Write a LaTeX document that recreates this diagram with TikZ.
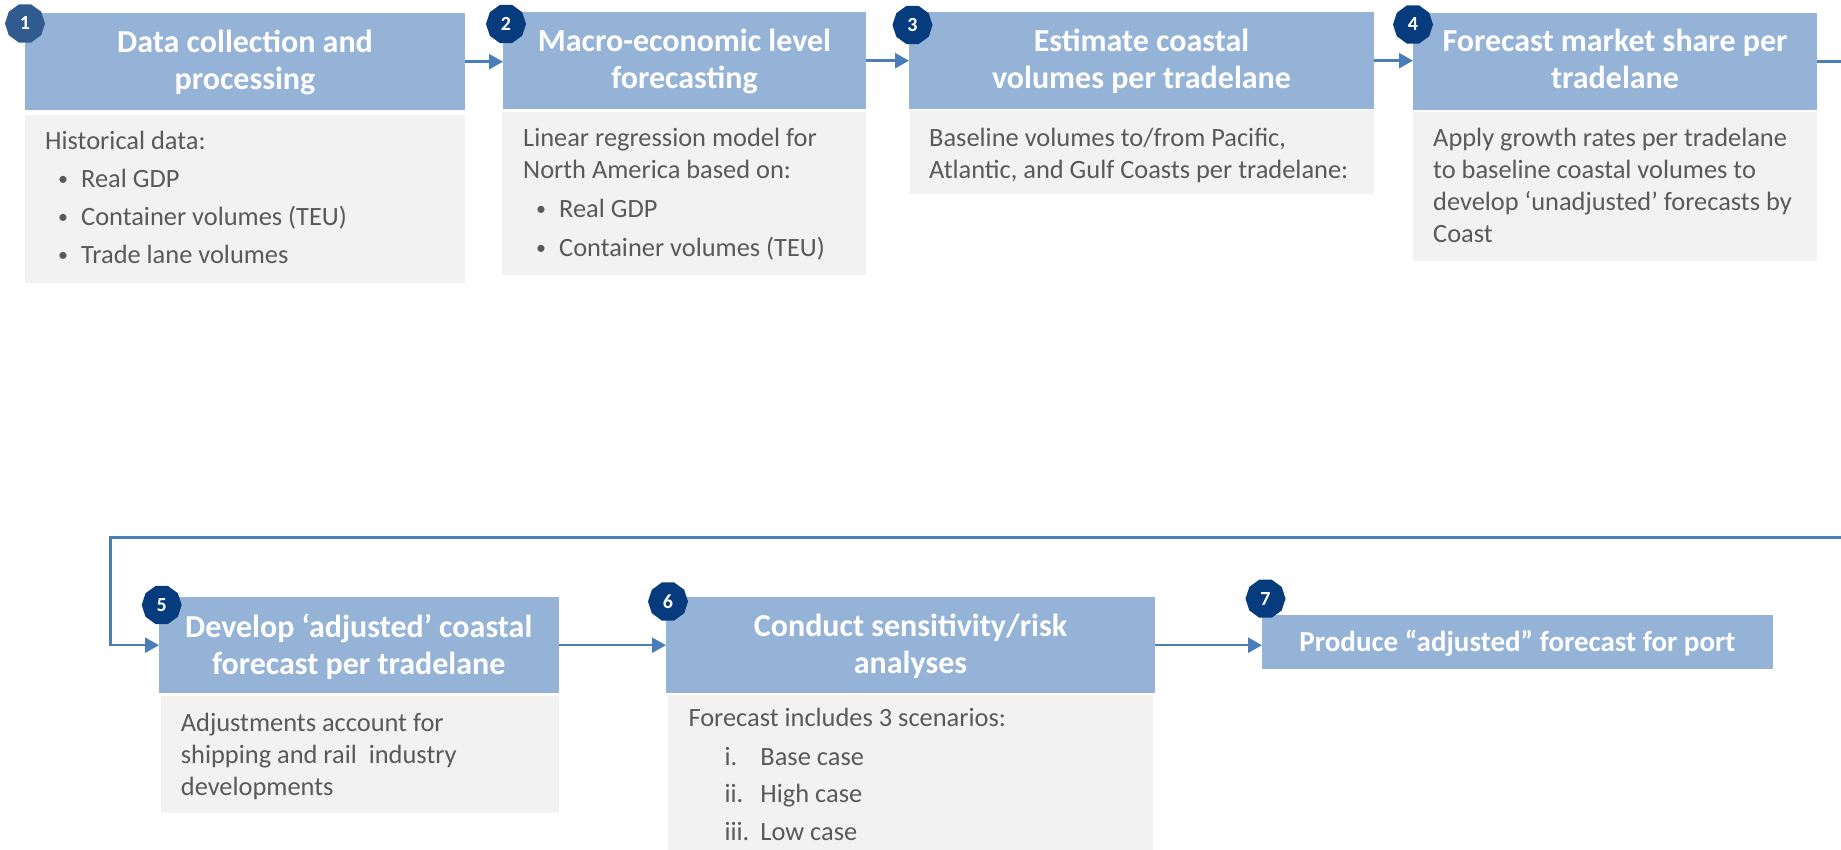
\documentclass[tikz,border=0pt]{standalone}
\usepackage{fontspec}
\setmainfont{Carlito}
\usetikzlibrary{arrows.meta,shapes.geometric}
\definecolor{hdrc}{HTML}{95B3D7}
\definecolor{bodyc}{HTML}{F2F2F2}
\definecolor{txtc}{HTML}{595959}
\definecolor{linec}{HTML}{4A7EBB}
\definecolor{badgec}{HTML}{063C7D}
\definecolor{badgeonec}{HTML}{2F5B8E}
\newcommand{\bul}{\hspace*{13pt}\makebox[23pt][l]{\raisebox{2.5pt}{\fontsize{20}{20}\selectfont •}}}
\newcommand{\rom}[1]{\hspace*{36pt}\makebox[36pt][l]{#1}}
\begin{document}
\begin{tikzpicture}[x=1pt,y=-1pt,
  hdrbox/.style={rectangle, fill=hdrc, inner sep=0, anchor=north west},
  bodybox/.style={rectangle, fill=bodyc, inner sep=0, anchor=north west},
  badge/.style={regular polygon, regular polygon sides=10, minimum size=40pt, inner sep=0, fill=badgec, text=white, font=\bfseries\fontsize{20}{20}\selectfont},
  hdrtext/.style={anchor=base, inner sep=0, text=white, font=\bfseries\fontsize{32}{37}\selectfont},
  bodytext/.style={anchor=base west, inner sep=0, text=txtc, font=\fontsize{26.4}{32}\selectfont},
  conn/.style={draw=linec, line width=2.5pt, -{Triangle[length=14pt,width=15pt]}}
]
\useasboundingbox (0,0) rectangle (1841,850);
\clip (0,0) rectangle (1841,850);
\fill[white] (0,0) rectangle (1841,850);

% boxes top row
\node[hdrbox, minimum width=440pt, minimum height=97pt] (h1) at (25,13) {};
\node[bodybox, minimum width=440pt, minimum height=168pt] (b1) at (25,115) {};
\node[hdrbox, minimum width=363pt, minimum height=97pt] (h2) at (503,12) {};
\node[bodybox, minimum width=364pt, minimum height=163pt] (b2) at (502,112) {};
\node[hdrbox, minimum width=465pt, minimum height=97pt] (h3) at (909,12) {};
\node[bodybox, minimum width=464pt, minimum height=84pt] (b3) at (910,110) {};
\node[hdrbox, minimum width=404pt, minimum height=97pt] (h4) at (1413,13) {};
\node[bodybox, minimum width=404pt, minimum height=149pt] (b4) at (1413,112) {};

% boxes bottom row
\node[hdrbox, minimum width=400pt, minimum height=96pt] (h5) at (159,597) {};
\node[bodybox, minimum width=398pt, minimum height=117pt] (b5) at (161,696) {};
\node[hdrbox, minimum width=489pt, minimum height=96pt] (h6) at (666,597) {};
\node[bodybox, minimum width=485pt, minimum height=170pt] (b6) at (668,695) {};
\node[hdrbox, minimum width=511pt, minimum height=54pt] (h7) at (1262,615) {};

% header texts
\node[hdrtext] (t1) at (245,53) {\begin{tabular}[t]{@{}c@{}}Data collection and\\processing\end{tabular}};
\node[hdrtext] (t2) at (684.5,52) {\begin{tabular}[t]{@{}c@{}}Macro-economic level\\forecasting\end{tabular}};
\node[hdrtext] (t3) at (1141.5,52) {\begin{tabular}[t]{@{}c@{}}Estimate coastal\\volumes per tradelane\end{tabular}};
\node[hdrtext] (t4) at (1615,52) {\begin{tabular}[t]{@{}c@{}}Forecast market share per\\tradelane\end{tabular}};
\node[hdrtext] (t5) at (358.7,637.5) {\begin{tabular}[t]{@{}c@{}}Develop ‘adjusted’ coastal\\forecast per tradelane\end{tabular}};
\node[hdrtext] (t6) at (910.5,636.5) {\begin{tabular}[t]{@{}c@{}}Conduct sensitivity/risk\\analyses\end{tabular}};
\node[hdrtext, font=\bfseries\fontsize{29}{35}\selectfont] (t7) at (1517.5,651.5) {Produce “adjusted” forecast for port};

% body texts
\node[bodytext] (d1) at (45,150) {\begin{tabular}[t]{@{}l@{}}Historical data:\\[6pt]\bul Real GDP\\[6pt]\bul Container volumes (TEU)\\[6pt]\bul Trade lane volumes\end{tabular}};
\node[bodytext] (d2) at (523,147) {\begin{tabular}[t]{@{}l@{}}Linear regression model for\\North America based on:\\[7pt]\bul Real GDP\\[7pt]\bul Container volumes (TEU)\end{tabular}};
\node[bodytext] (d3) at (929,147) {\begin{tabular}[t]{@{}l@{}}Baseline volumes to/from Pacific,\\Atlantic, and Gulf Coasts per tradelane:\end{tabular}};
\node[bodytext] (d4) at (1433,147) {\begin{tabular}[t]{@{}l@{}}Apply growth rates per tradelane\\to baseline coastal volumes to\\develop ‘unadjusted’ forecasts by\\Coast\end{tabular}};
\node[bodytext] (d5) at (180.7,731) {\begin{tabular}[t]{@{}l@{}}Adjustments account for\\shipping and rail~~industry\\developments\end{tabular}};
\node[bodytext] (d6) at (688.3,726.7) {\begin{tabular}[t]{@{}l@{}}Forecast includes 3 scenarios:\\[7pt]\rom{i.}Base case\\[5pt]\rom{ii.}High case\\[6pt]\rom{iii.}Low case\end{tabular}};

% badges
\node[badge, fill=badgeonec] (n1) at (25,23.5) {1};
\node[badge] (n2) at (506,24) {2};
\node[badge] (n3) at (912.5,25) {3};
\node[badge] (n4) at (1413,24.5) {4};
\node[badge] (n5) at (161.7,605) {5};
\node[badge] (n6) at (668,601.5) {6};
\node[badge] (n7) at (1265.5,598.7) {7};

% connectors
\coordinate (turnR) at (1880,537.3);
\coordinate (turnL) at (110.7,537.3);
\draw[conn] (h1.east) -- (h1.east -| h2.west);
\draw[conn] (h2.east) -- (h2.east -| h3.west);
\draw[conn] (h3.east) -- (h3.east -| h4.west);
\draw[conn] (h4.east) -- (h4.east -| turnR) |- (turnL) |- (h5.west);
\draw[conn] (h5.east) -- (h5.east -| h6.west);
\draw[conn] (h6.east) -- (h6.east -| h7.west);
\end{tikzpicture}
\end{document}
